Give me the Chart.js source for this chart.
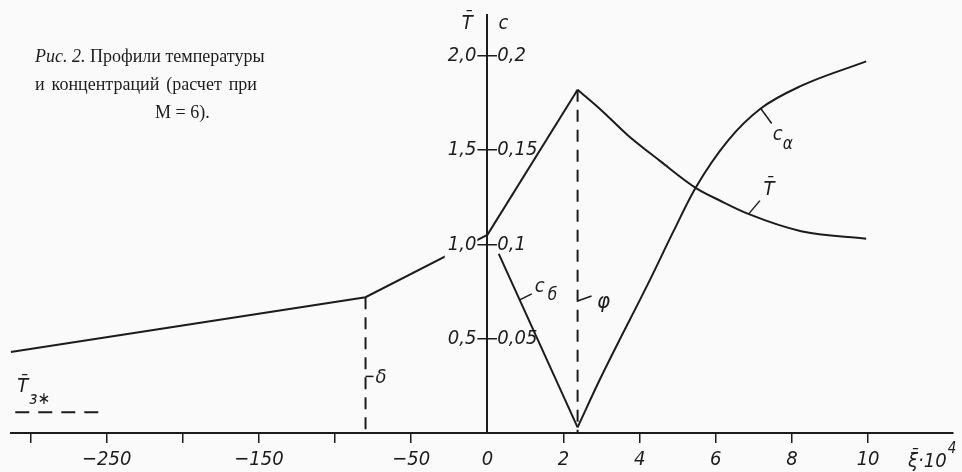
<!DOCTYPE html>
<html lang="ru">
<head>
<meta charset="utf-8">
<title>Профили температуры и концентраций</title>
<script src="https://cdn.jsdelivr.net/npm/chart.js@4.4.1/dist/chart.umd.min.js"></script>
<style>
    html, body { margin: 0; padding: 0; background: #fafafa; }
    #wrap { position: relative; width: 962px; height: 472px; }
    #caption {
        position: absolute; left: 35px; top: 42px; width: 222px;
        font: 18px "Liberation Serif", "DejaVu Serif", serif;
        line-height: 28px; color: #1c1c1c;
    }
    #caption div { text-align: justify; text-align-last: justify; white-space: nowrap; }
    #caption div.last { text-align: left; text-align-last: auto; padding-left: 120px; }
</style>
</head>
<body>
<div id="wrap">
    <canvas id="profileChart" width="962" height="472"></canvas>
    <div id="caption">
        <div><i>Рис. 2.</i> Профили температуры</div>
        <div>и концентраций (расчет при</div>
        <div class="last">M = 6).</div>
    </div>
</div>
<script>
// ξ̄·10⁴ < 0: температура в зоне прогрева (сжатый масштаб слева)
const xiNeg = [-313, -80, 0];
const tempNeg = [0.43, 0.72, 1.05];

// ξ̄·10⁴ > 0: температура
const xiRise = [0, 2.37];
const tempRise = [1.05, 1.82];
const xiFall = [2.37, 3.0, 3.68, 4.55, 5.47, 6.13, 6.87, 8.24, 9.95];
const tempFall = [1.82, 1.71, 1.58, 1.44, 1.30, 1.23, 1.16, 1.07, 1.03];

// концентрации
const xiCb = [0.3, 2.37];
const concB = [0.095, 0.003];
const xiCa = [2.37, 2.97, 4.29, 4.89, 5.47, 6.32, 7.18, 8.24, 9.95];
const concA = [0.003, 0.029, 0.082, 0.107, 0.130, 0.155, 0.172, 0.184, 0.197];

// границы зон и температура T̄з*
const deltaXi = -80;
const phiXi = 2.37;
const ignXi = [-310, -250];
const ignTemp = [0.11, 0.11];

// деления осей
const ticksNeg = [-300, -250, -200, -150, -100, -50];
const labelsNeg = [-250, -150, -50];
const ticksPos = [0, 2, 4, 6, 8, 10];
const ticksTemp = [0.5, 1.0, 1.5, 2.0];
const ticksConc = [0.05, 0.1, 0.15, 0.2];

const ink = '#1c1c1c';
const paper = '#fafafa';
const tech = '"DejaVu Sans Condensed", "DejaVu Sans", sans-serif';

Chart.defaults.font.family = tech;
Chart.defaults.font.style = 'italic';
Chart.defaults.font.size = 20;
Chart.defaults.color = ink;

const pts = (xs, ys) => xs.map((x, i) => ({ x, y: ys[i] }));
const minus = (v) => (v < 0 ? '\u2212' : '') + Math.abs(v);
const comma = (v) => String(v).replace('.', ',');

const solid = { borderColor: ink, borderWidth: 2, pointRadius: 0, fill: false };

// ось T̄|c стоит на линии ξ̄ = 0; подписи T̄ слева от неё, c справа
const sideLabels = (side, pad) => (scale) => {
    if (scale._sideWrapped) return;
    scale._sideWrapped = true;
    const compute = scale._computeLabelItems.bind(scale);
    scale._computeLabelItems = (area) => {
        const items = compute(area);
        const ax = scale.chart.scales.xR.getPixelForValue(0);
        items.forEach(it => {
            const o = it.options;
            o.translation[0] = side === 'left' ? ax - 11 : ax + 10;
            o.textAlign = side === 'left' ? 'right' : 'left';
            if (o.backdrop) {
                const w = o.backdrop.width - pad.left - pad.right;
                o.backdrop.left = side === 'left' ? -w - pad.left : -pad.left;
            }
        });
        return items;
    };
};

const tempPad = { top: 2, bottom: 2, left: 3, right: 1 };
const concPad = { top: 0, bottom: 0, left: 0, right: 0 };

const xAxis = (extra) => Object.assign({
    type: 'linear',
    axis: 'x',
    position: 'bottom',
    stack: 'xi',
    border: { display: true, color: ink, width: 2 },
    grid: { display: true, drawOnChartArea: false, drawTicks: true, tickLength: 10, color: ink, lineWidth: 1.5 },
    afterFit: (scale) => { scale.height = 39; }
}, extra);

const notes = {
    id: 'notes',
    afterDraw(chart) {
        const { ctx, chartArea } = chart;
        const { xL, xR, yT, yC } = chart.scales;
        const ax = xR.getPixelForValue(0);
        const text = (s, x, y, size, align = 'left') => {
            ctx.font = `italic ${size}px ${tech}`;
            ctx.textAlign = align;
            ctx.textBaseline = 'alphabetic';
            ctx.fillText(s, x, y);
        };
        const leader = (x1, y1, x2, y2) => {
            ctx.beginPath();
            ctx.moveTo(x1, y1);
            ctx.lineTo(x2, y2);
            ctx.stroke();
        };
        ctx.save();
        ctx.fillStyle = ink;
        ctx.strokeStyle = ink;
        ctx.lineWidth = 1.5;

        // названия осей
        text('T\u0304', ax - 20, chartArea.top + 14, 20, 'center');
        text('c', ax + 16, chartArea.top + 14, 20, 'center');
        const xt = xR.getPixelForValue(11.05);
        const yb = xR.top + 34;
        text('\u03BE\u0304\u00B710', xt, yb, 20);
        ctx.font = `italic 20px ${tech}`;
        text('4', xt + ctx.measureText('\u03BE\u0304\u00B710').width + 1, yb - 14, 15);

        // cα
        let px = xR.getPixelForValue(7.18), py = yC.getPixelForValue(0.172);
        leader(px, py, px + 11, py + 15);
        text('c', px + 12, py + 31, 20);
        text('\u03B1', px + 22, py + 40, 17);

        // T̄
        px = xR.getPixelForValue(6.87); py = yT.getPixelForValue(1.163);
        leader(px, py, px + 11, py - 13);
        text('T\u0304', px + 20, py - 19, 20, 'center');

        // cб
        px = xR.getPixelForValue(0.85); py = yC.getPixelForValue(0.0706);
        leader(px, py, px + 12, py - 6);
        text('c', px + 15, py - 8, 20);
        text('\u0431', px + 28, py, 17);

        // φ
        px = xR.getPixelForValue(phiXi); py = yT.getPixelForValue(0.7);
        leader(px, py, px + 14, py - 5);
        text('\u03C6', px + 26, py + 7, 22, 'center');

        // δ
        px = xL.getPixelForValue(deltaXi); py = yT.getPixelForValue(0.3);
        leader(px, py, px + 8, py);
        text('\u03B4', px + 10, py + 7, 20);

        // T̄з*
        px = xL.getPixelForValue(ignXi[0]); py = yT.getPixelForValue(ignTemp[0]);
        text('T\u0304', px + 2, py - 20, 20);
        text('\u0437\u2217', px + 14, py - 8, 17);

        ctx.restore();
    }
};

new Chart(document.getElementById('profileChart'), {
    type: 'line',
    data: {
        datasets: [
            { label: 'T\u0304 (\u03BE < 0)', data: pts(xiNeg, tempNeg), xAxisID: 'xL', yAxisID: 'yT', ...solid },
            { label: 'T\u0304 рост', data: pts(xiRise, tempRise), xAxisID: 'xR', yAxisID: 'yT', ...solid },
            { label: 'T\u0304 спад', data: pts(xiFall, tempFall), xAxisID: 'xR', yAxisID: 'yT', cubicInterpolationMode: 'monotone', ...solid },
            { label: 'c\u0431', data: pts(xiCb, concB), xAxisID: 'xR', yAxisID: 'yC', ...solid },
            { label: 'c\u03B1', data: pts(xiCa, concA), xAxisID: 'xR', yAxisID: 'yC', cubicInterpolationMode: 'monotone', ...solid },
            { label: '\u03B4', data: pts([deltaXi, deltaXi], [tempNeg[1], 0]), xAxisID: 'xL', yAxisID: 'yT', borderDash: [12, 8], ...solid },
            { label: '\u03C6', data: pts([phiXi, phiXi], [tempRise[1], 0]), xAxisID: 'xR', yAxisID: 'yT', borderDash: [12, 8], ...solid },
            { label: 'T\u0304\u0437*', data: pts(ignXi, ignTemp), xAxisID: 'xL', yAxisID: 'yT', borderDash: [14, 9], ...solid }
        ]
    },
    options: {
        responsive: false,
        animation: false,
        events: [],
        layout: { padding: { left: 10, right: 9, top: 12, bottom: 0 } },
        plugins: { legend: { display: false }, tooltip: { enabled: false } },
        scales: {
            xL: xAxis({
                stackWeight: 477,
                min: -313,
                max: 0,
                afterBuildTicks: (scale) => { scale.ticks = ticksNeg.map(value => ({ value })); },
                ticks: {
                    autoSkip: false, maxRotation: 0, padding: 5, includeBounds: false,
                    callback: (v) => labelsNeg.includes(v) ? minus(v) : ''
                }
            }),
            xR: xAxis({
                stackWeight: 466,
                min: 0,
                max: 12.23,
                afterBuildTicks: (scale) => { scale.ticks = ticksPos.map(value => ({ value })); },
                grid: {
                    display: true, drawOnChartArea: false, drawTicks: true, tickLength: 10, lineWidth: 1.5,
                    color: (c) => (c.tick && c.tick.value === 0) ? 'rgba(0,0,0,0)' : ink
                },
                ticks: { autoSkip: false, maxRotation: 0, padding: 5, includeBounds: false, callback: (v) => String(v) }
            }),
            yT: {
                type: 'linear',
                axis: 'y',
                position: { xR: 0 },
                min: 0,
                max: 2.216,
                afterBuildTicks: (scale) => { scale.ticks = ticksTemp.map(value => ({ value })); },
                afterUpdate: sideLabels('left', tempPad),
                border: { display: true, color: ink, width: 2 },
                grid: { display: true, drawOnChartArea: false, drawTicks: true, tickLength: 10, color: ink, lineWidth: 1.5 },
                ticks: {
                    z: 1, autoSkip: false, showLabelBackdrop: true, backdropColor: paper, backdropPadding: tempPad,
                    callback: (v) => v.toFixed(1).replace('.', ',')
                }
            },
            yC: {
                type: 'linear',
                axis: 'y',
                position: { xR: 0 },
                min: 0,
                max: 0.2216,
                afterBuildTicks: (scale) => { scale.ticks = ticksConc.map(value => ({ value })); },
                afterUpdate: sideLabels('right', concPad),
                border: { display: false },
                grid: { display: true, drawOnChartArea: false, drawTicks: true, tickLength: -10, color: ink, lineWidth: 1.5 },
                ticks: {
                    z: 1, autoSkip: false, showLabelBackdrop: false,
                    callback: (v) => comma(v)
                }
            }
        }
    },
    plugins: [notes]
});
</script>
</body>
</html>
